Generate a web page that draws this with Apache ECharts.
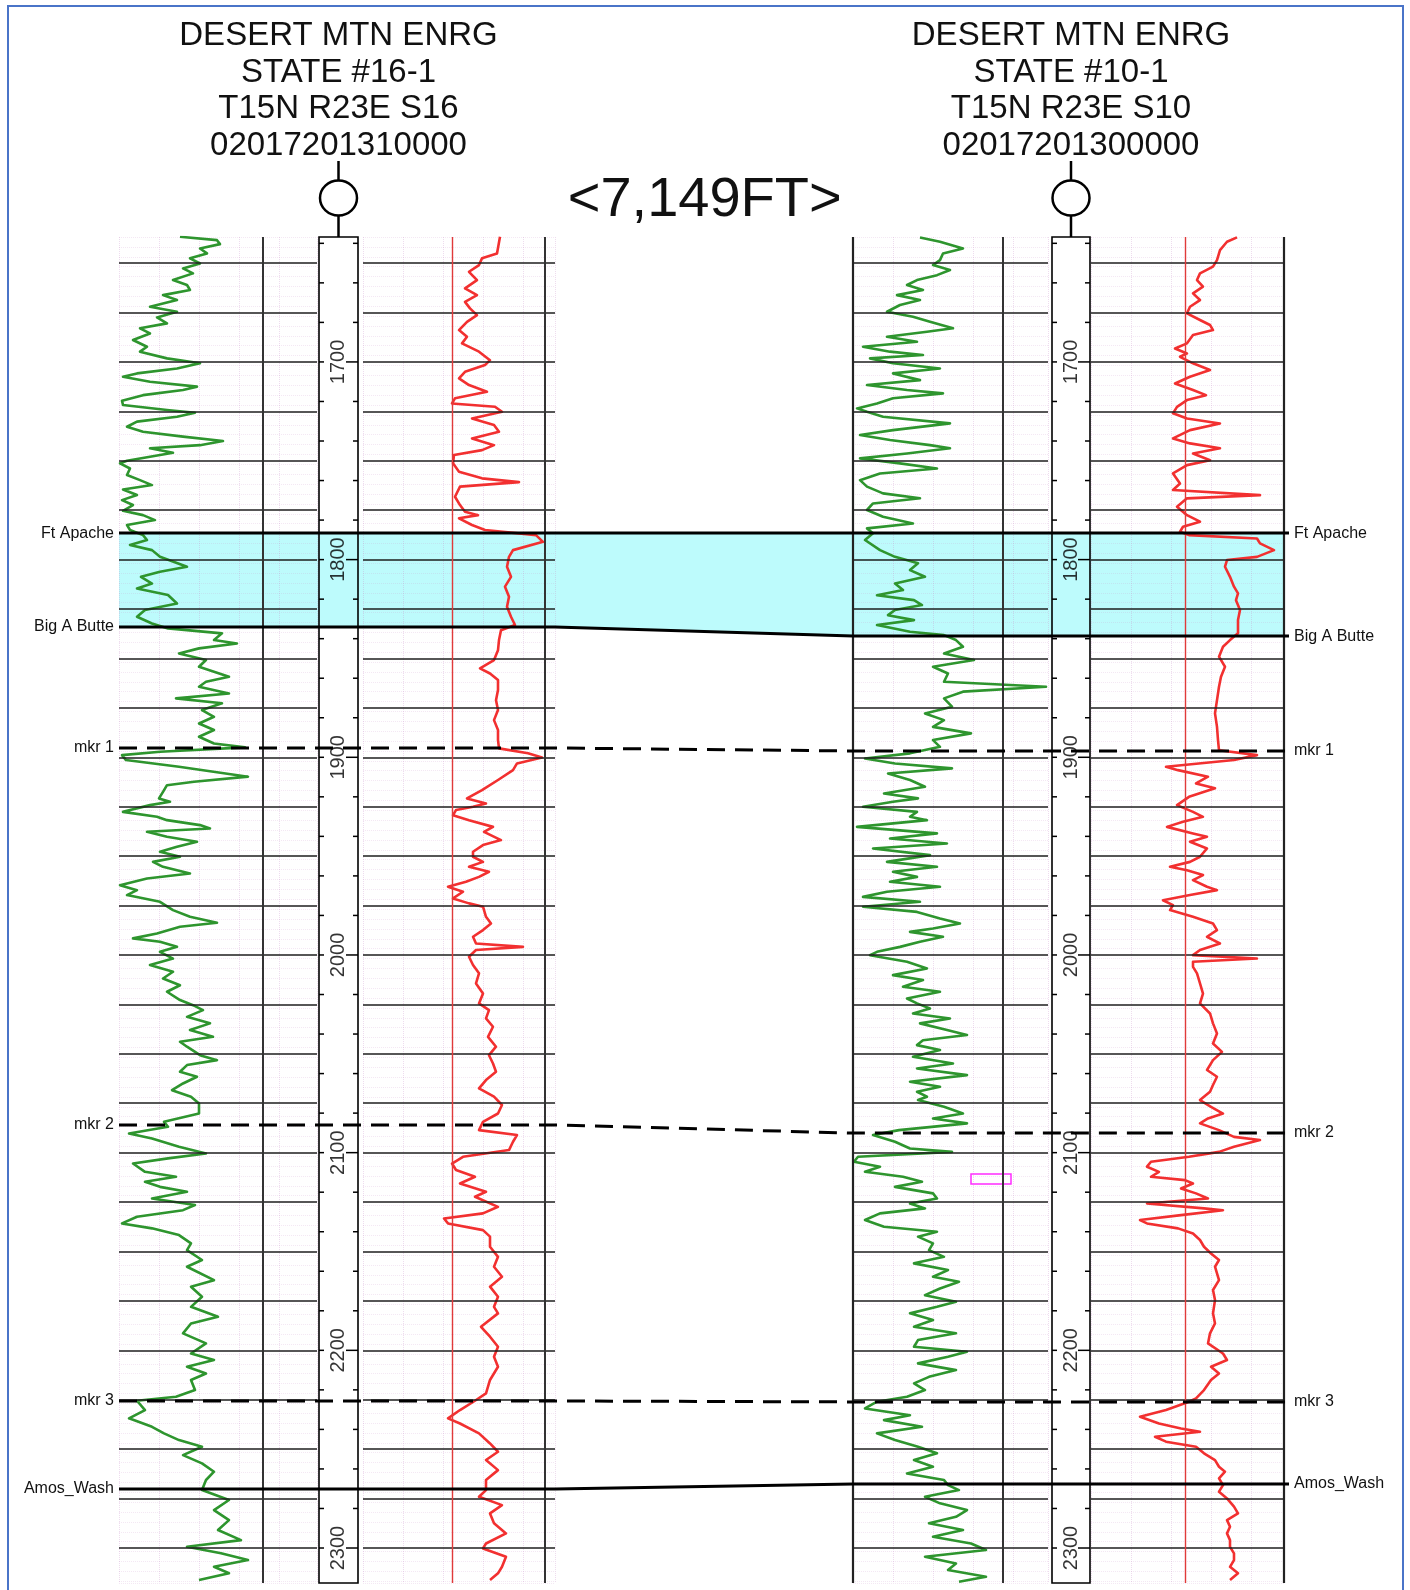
<!DOCTYPE html>
<html>
<head>
<meta charset="utf-8">
<script src="https://cdn.jsdelivr.net/npm/echarts@6/dist/echarts.min.js"></script>
<style>
  html, body { margin: 0; padding: 0; background: #fff; }
  #chart { width: 1410px; height: 1590px; }
</style>
</head>
<body>
<div id="chart"></div>
<script>
// ---- data ----------------------------------------------------------------
var depthTop = 1636.8, depthBase = 2317.7;   // shown depth window (ft)

var wellHeaders = [
  ['DESERT MTN ENRG', 'STATE #16-1', 'T15N R23E S16', '02017201310000'],
  ['DESERT MTN ENRG', 'STATE #10-1', 'T15N R23E S10', '02017201300000']
];
var distanceLabel = '<7,149FT>';

var topNames   = ['Ft Apache', 'Big A Butte', 'mkr 1', 'mkr 2', 'mkr 3', 'Amos_Wash'];
var topDashed  = [false, false, true, true, true, false];
var topsLeft   = [1786.6, 1834.1, 1895.3, 2086.0, 2225.6, 2270.1];
var topsRight  = [1786.6, 1838.7, 1896.8, 2090.1, 2226.1, 2267.6];

var depthLabels = [1700, 1800, 1900, 2000, 2100, 2200, 2300];
var depthTicks = [];
for (var t = 1640; t <= 2300; t += 20) depthTicks.push(t);
var gridDepths = [];
for (var g = 1650; g <= 2300; g += 25) gridDepths.push(g);

// curves: [depth, reading]
var grLeft = [
  [1636.7,61],[1638.4,98],[1640.4,101],[1642.6,81],[1645.1,88],[1647.6,71],[1650.2,81],[1652.7,64],[1655.2,74],[1658.6,54],
  [1661.1,68],[1663.6,71],[1666.2,44],[1668.7,58],[1672.1,31],[1674.6,58],[1677.5,38],[1680.5,48],[1683.0,21],[1685.6,31],
  [1688.9,14],[1692.3,28],[1694.8,21],[1698.2,48],[1700.7,81],[1703.3,58],[1705.8,18],[1707.5,4],[1710.0,31],[1712.5,78],
  [1714.2,64],[1716.8,24],[1719.6,3],[1721.8,4],[1724.3,48],[1725.7,76],[1727.7,58],[1730.2,18],[1732.8,8],[1735.3,24],
  [1737.8,64],[1740.0,104],[1742.1,81],[1743.7,31],[1745.9,54],[1748.0,31],[1750.0,8],[1751.3,1],[1753.9,11],[1757.2,8],
  [1759.8,21],[1762.3,33],[1764.5,4],[1767.3,18],[1769.9,3],[1772.4,14],[1775.3,4],[1777.5,24],[1780.0,36],[1782.5,8],
  [1785.0,11],[1787.6,24],[1790.1,28],[1792.6,11],[1795.2,33],[1798.6,41],[1803.6,68],[1806.1,41],[1808.7,22],[1812.1,33],
  [1814.6,18],[1817.9,49],[1822.2,58],[1825.5,26],[1828.9,18],[1832.3,33],[1834.8,49],[1837.3,103],[1840.7,95],[1842.4,118],
  [1844.9,80],[1847.5,60],[1850.8,87],[1854.2,80],[1856.7,95],[1859.3,110],[1861.8,87],[1864.3,80],[1867.7,110],[1870.2,57],
  [1872.7,103],[1876.1,83],[1879.5,95],[1882.9,80],[1886.2,95],[1889.6,80],[1893.0,95],[1895.0,126],[1897.2,41],[1898.9,3],
  [1901.4,7],[1904.8,60],[1909.8,129],[1912.4,75],[1914.1,48],[1917.5,44],[1920.8,40],[1922.5,51],[1924.2,31],[1927.6,4],
  [1930.1,38],[1931.8,48],[1934.3,81],[1936.0,91],[1937.7,28],[1940.2,48],[1942.7,78],[1945.3,58],[1947.8,41],[1950.3,61],
  [1952.9,34],[1955.4,44],[1958.8,71],[1961.3,28],[1964.7,1],[1967.2,18],[1969.7,8],[1973.1,41],[1977.3,54],[1980.7,71],
  [1983.7,98],[1985.7,61],[1989.1,38],[1991.6,14],[1993.3,41],[1995.9,58],[1998.4,41],[2001.8,54],[2005.1,31],[2008.5,54],
  [2011.9,44],[2015.3,61],[2018.6,48],[2022.8,61],[2025.4,74],[2027.9,84],[2031.3,68],[2034.6,91],[2038.0,71],[2041.4,94],
  [2043.9,61],[2046.4,68],[2050.7,81],[2053.2,98],[2055.7,68],[2059.1,61],[2061.6,78],[2065.0,64],[2068.4,53],[2071.7,72],
  [2075.1,80],[2080.2,80],[2084.4,45],[2086.9,49],[2090.3,10],[2092.8,33],[2097.0,60],[2100.4,87],[2102.9,49],[2105.5,14],
  [2109.7,26],[2112.2,57],[2114.7,26],[2117.3,41],[2119.8,68],[2123.2,33],[2126.5,76],[2129.1,64],[2132.4,18],[2135.8,3],
  [2138.3,33],[2141.7,60],[2145.9,72],[2149.3,68],[2154.3,83],[2157.7,68],[2164.5,95],[2167.8,72],[2172.9,83],[2178.0,72],
  [2183.0,99],[2186.4,72],[2191.4,64],[2196.5,87],[2201.6,72],[2204.9,95],[2208.3,68],[2211.7,87],[2215.0,72],[2220.1,76],
  [2223.5,57],[2225.5,18],[2230.2,26],[2234.4,10],[2238.7,33],[2242.0,45],[2245.4,60],[2248.8,83],[2253.0,64],[2257.2,83],
  [2261.4,95],[2265.6,87],[2270.7,83],[2275.7,110],[2280.8,95],[2285.9,110],[2290.9,99],[2296.0,122],[2299.4,68],[2302.7,102],
  [2306.1,129],[2309.5,95],[2312.8,110],[2316.2,80]
];

var resLeft = [
  [1636.7,137],[1645.1,134],[1647.6,119],[1651.0,116],[1654.4,106],[1658.6,114],[1662.8,102],[1666.2,114],[1669.6,102],[1672.9,107],
  [1676.3,114],[1679.7,104],[1683.9,96],[1687.3,104],[1690.6,99],[1694.8,116],[1699.1,127],[1701.6,122],[1705.0,102],[1708.3,96],
  [1711.7,106],[1715.1,124],[1718.4,92],[1721.0,89],[1722.7,132],[1725.2,139],[1728.6,109],[1731.9,131],[1735.3,136],[1738.7,109],
  [1742.1,131],[1744.6,119],[1747.1,91],[1751.3,90],[1755.5,96],[1758.9,119],[1760.8,156],[1763.1,97],[1768.2,92],[1772.4,97],
  [1775.8,102],[1777.5,115],[1779.1,96],[1782.5,109],[1785.0,122],[1787.6,173],[1791.0,180],[1795.2,150],[1798.6,146],[1803.6,144],
  [1808.7,148],[1813.7,142],[1818.8,146],[1823.9,144],[1828.9,148],[1833.1,152],[1835.7,138],[1840.7,136],[1845.8,135],[1850.8,131],
  [1855.0,117],[1857.6,127],[1860.9,135],[1866.0,135],[1871.1,133],[1876.1,135],[1881.2,131],[1886.2,135],[1891.3,135],[1895.5,136],
  [1898.0,165],[1900.1,179],[1903.1,154],[1906.5,150],[1911.5,135],[1916.6,119],[1920.8,104],[1923.4,123],[1925.0,110],[1926.7,93],
  [1929.3,90],[1931.8,106],[1935.2,130],[1937.7,121],[1941.9,138],[1944.4,120],[1947.8,110],[1950.3,110],[1952.9,120],[1955.4,106],
  [1957.9,126],[1960.5,116],[1963.0,103],[1965.5,85],[1968.0,100],[1971.4,90],[1973.9,106],[1975.6,120],[1980.7,123],[1984.1,128],
  [1987.4,120],[1990.8,110],[1994.2,113],[1995.9,160],[1997.5,113],[2000.9,106],[2005.1,110],[2009.3,116],[2014.4,113],[2019.5,120],
  [2024.5,116],[2027.9,126],[2032.1,123],[2036.3,130],[2041.4,125],[2046.4,133],[2050.7,126],[2054.9,130],[2059.1,133],[2063.3,123],
  [2067.5,116],[2071.7,131],[2075.9,139],[2080.2,135],[2084.4,120],[2088.6,116],[2091.1,154],[2094.5,150],[2098.7,146],[2102.1,100],
  [2105.5,89],[2108.8,93],[2112.2,112],[2115.6,97],[2119.8,123],[2122.3,112],[2127.4,135],[2130.7,120],[2133.3,81],[2135.8,85],
  [2139.2,120],[2142.5,127],[2147.6,127],[2152.7,135],[2157.7,131],[2162.8,139],[2167.8,127],[2172.9,135],[2178.0,131],[2181.3,135],
  [2188.1,118],[2193.1,127],[2198.2,135],[2203.2,131],[2208.3,135],[2215.0,127],[2221.8,123],[2225.5,112],[2230.2,97],[2234.4,85],
  [2237.0,97],[2242.0,116],[2247.1,127],[2251.3,135],[2255.5,123],[2260.6,135],[2265.6,123],[2270.7,123],[2274.1,116],[2278.3,139],
  [2282.5,127],[2287.5,131],[2292.6,143],[2297.7,123],[2300.2,120],[2304.4,143],[2309.5,139],[2312.8,135],[2316.2,127]
];

var grRight = [
  [1637.0,67],[1639.2,87],[1642.6,110],[1645.1,90],[1648.5,87],[1651.0,80],[1653.5,97],[1656.1,84],[1658.6,64],[1661.1,54],
  [1663.6,70],[1666.2,44],[1668.7,67],[1671.2,47],[1674.6,34],[1677.1,60],[1679.7,77],[1683.0,100],[1684.7,74],[1687.3,34],
  [1689.8,64],[1692.3,10],[1694.8,37],[1696.5,70],[1698.2,17],[1700.7,40],[1703.3,87],[1705.8,40],[1709.2,67],[1711.7,14],
  [1714.2,54],[1715.9,90],[1718.4,40],[1721.0,24],[1723.5,4],[1725.2,14],[1727.7,30],[1731.1,97],[1734.5,40],[1737.0,7],
  [1739.5,37],[1742.1,77],[1743.7,97],[1746.3,54],[1748.8,7],[1751.3,47],[1753.9,84],[1756.4,27],[1759.8,7],[1763.1,14],
  [1766.5,30],[1769.0,67],[1771.6,20],[1774.9,14],[1778.3,30],[1781.7,60],[1784.2,14],[1786.7,20],[1790.1,12],[1795.2,27],
  [1798.6,42],[1801.9,65],[1805.3,57],[1808.7,72],[1812.1,42],[1815.4,50],[1818.0,24],[1820.5,61],[1823.0,69],[1825.5,42],
  [1828.1,35],[1830.6,61],[1833.1,24],[1836.5,57],[1838.2,91],[1840.7,103],[1844.1,110],[1847.5,91],[1850.8,121],[1854.2,80],
  [1857.6,95],[1861.8,91],[1864.3,193],[1866.8,110],[1870.2,91],[1874.4,99],[1877.8,72],[1881.2,91],[1884.6,80],[1887.9,118],
  [1891.3,80],[1894.7,87],[1898.0,57],[1900.6,12],[1903.1,42],[1905.6,99],[1908.2,35],[1911.5,57],[1914.9,72],[1918.3,31],
  [1920.8,65],[1922.5,40],[1925.0,10],[1927.6,64],[1930.1,57],[1931.8,74],[1935.2,4],[1938.5,84],[1941.1,37],[1943.6,94],
  [1946.1,20],[1949.5,77],[1952.9,34],[1955.4,84],[1957.9,40],[1960.5,64],[1963.0,37],[1965.5,87],[1968.0,34],[1970.6,10],
  [1973.1,67],[1975.6,10],[1978.2,64],[1981.5,87],[1984.1,107],[1986.6,80],[1988.3,57],[1990.8,90],[1993.3,67],[1995.9,47],
  [1998.4,24],[2000.1,17],[2003.4,54],[2006.8,74],[2010.2,40],[2012.7,70],[2016.1,50],[2018.6,87],[2022.0,54],[2024.5,64],
  [2027.1,77],[2029.6,60],[2032.1,97],[2034.6,67],[2038.0,94],[2040.5,114],[2043.1,70],[2045.6,64],[2048.1,87],[2051.5,60],
  [2054.9,100],[2057.4,64],[2060.8,114],[2064.1,57],[2066.7,87],[2069.2,64],[2071.7,74],[2073.4,65],[2076.8,91],[2080.2,110],
  [2082.7,80],[2085.2,114],[2088.6,46],[2091.1,20],[2094.5,42],[2097.9,57],[2099.6,99],[2102.1,5],[2104.6,1],[2107.1,27],
  [2109.7,12],[2112.2,50],[2114.7,69],[2117.3,42],[2120.6,80],[2123.2,84],[2125.7,57],[2128.2,72],[2130.7,27],[2134.1,12],
  [2137.5,31],[2140.0,84],[2142.5,65],[2145.9,80],[2149.3,76],[2152.7,91],[2156.0,61],[2159.4,95],[2162.8,80],[2165.3,106],
  [2168.7,87],[2172.1,72],[2175.4,103],[2178.0,84],[2181.3,57],[2184.7,80],[2188.1,61],[2191.4,103],[2194.8,65],[2198.2,61],
  [2200.7,114],[2203.2,95],[2206.6,65],[2210.0,103],[2213.4,76],[2216.7,61],[2220.1,72],[2223.5,54],[2226.0,24],[2229.4,12],
  [2232.8,57],[2235.3,31],[2238.7,69],[2242.0,24],[2245.4,42],[2248.8,65],[2252.1,84],[2255.5,61],[2258.9,80],[2262.3,54],
  [2265.6,91],[2268.2,95],[2270.7,106],[2274.1,72],[2277.4,87],[2280.8,114],[2284.2,103],[2287.5,76],[2290.9,110],[2294.3,80],
  [2297.7,118],[2301.0,133],[2304.4,72],[2307.8,103],[2311.1,95],[2314.5,133],[2317.1,106]
];

var resRight = [
  [1637.0,146],[1639.2,136],[1643.4,129],[1648.5,126],[1651.8,122],[1655.2,109],[1658.6,106],[1661.9,112],[1665.3,102],[1668.7,109],
  [1672.1,99],[1675.4,96],[1678.8,109],[1681.3,119],[1683.9,122],[1686.4,102],[1690.6,96],[1693.2,84],[1695.7,96],[1697.4,89],
  [1700.7,102],[1704.1,119],[1707.5,99],[1710.9,84],[1714.2,102],[1716.8,115],[1719.3,96],[1722.7,86],[1726.0,82],[1728.6,96],
  [1731.1,129],[1734.5,99],[1738.7,82],[1741.2,99],[1743.7,129],[1746.3,102],[1749.7,119],[1752.2,96],[1756.4,82],[1761.5,89],
  [1764.8,82],[1767.4,169],[1769.0,96],[1773.2,86],[1777.5,96],[1780.8,109],[1783.4,92],[1785.9,89],[1787.6,98],[1789.3,166],
  [1791.8,169],[1795.2,183],[1798.6,166],[1800.2,136],[1803.6,134],[1808.7,139],[1813.7,143],[1817.1,147],[1820.5,145],[1825.5,149],
  [1830.6,147],[1837.3,147],[1840.7,139],[1844.1,132],[1849.1,128],[1854.2,134],[1859.3,130],[1864.3,128],[1871.1,126],[1877.8,124],
  [1884.6,126],[1891.3,127],[1896.4,128],[1898.9,166],[1901.4,143],[1904.8,75],[1906.5,87],[1909.8,117],[1913.2,105],[1915.7,124],
  [1920.0,98],[1924.2,86],[1927.6,102],[1930.1,112],[1932.6,92],[1935.2,76],[1938.5,102],[1940.2,116],[1942.7,99],[1946.1,116],
  [1950.3,109],[1952.9,99],[1955.4,79],[1957.1,96],[1959.6,112],[1962.1,102],[1965.5,116],[1967.2,126],[1969.7,99],[1972.3,72],
  [1974.8,82],[1977.3,79],[1980.7,102],[1984.1,122],[1987.4,126],[1990.8,116],[1994.2,129],[1997.5,109],[2000.1,102],[2001.8,166],
  [2003.4,102],[2006.0,102],[2009.3,106],[2014.4,109],[2019.5,112],[2024.5,109],[2029.6,119],[2034.6,122],[2039.7,126],[2044.8,122],
  [2049.0,131],[2053.2,122],[2058.2,116],[2061.6,126],[2065.8,122],[2069.2,119],[2073.4,109],[2076.8,120],[2080.2,132],[2082.7,117],
  [2085.2,109],[2088.6,128],[2092.0,143],[2093.6,169],[2097.0,143],[2099.6,128],[2102.1,98],[2104.6,60],[2107.1,56],[2109.7,68],
  [2112.2,60],[2113.9,94],[2115.6,102],[2118.1,90],[2120.6,105],[2123.2,117],[2125.7,56],[2128.2,113],[2129.1,132],[2131.6,90],
  [2134.1,49],[2135.8,56],[2138.3,87],[2140.9,102],[2144.2,109],[2147.6,113],[2151.0,120],[2154.3,128],[2157.7,124],[2161.1,126],
  [2164.5,128],[2169.5,122],[2174.6,124],[2181.3,122],[2186.4,124],[2191.4,119],[2196.5,117],[2201.6,132],[2204.9,136],[2208.3,120],
  [2211.7,128],[2215.0,120],[2220.1,113],[2224.3,105],[2226.0,98],[2230.2,75],[2233.6,49],[2237.0,68],[2239.5,90],[2241.2,109],
  [2243.7,64],[2246.2,75],[2248.8,105],[2252.1,113],[2255.5,124],[2258.9,128],[2261.4,134],[2264.8,128],[2268.2,132],[2271.5,128],
  [2274.9,136],[2279.1,143],[2282.5,147],[2285.9,136],[2289.2,139],[2292.6,136],[2296.0,139],[2299.4,139],[2302.7,143],[2306.1,143],
  [2309.5,139],[2312.8,147],[2316.2,139]
];

// ---- layout --------------------------------------------------------------
var FONT = "'Liberation Sans', Arial, sans-serif";
var TRACK_TOP = 237, TRACK_H = 1346;
var tracks = [
  { left: 119,  width: 198, max: 198, kind: 'gr' },
  { left: 319,  width: 39,  max: 1,   kind: 'depth' },
  { left: 363,  width: 192, max: 192, kind: 'res' },
  { left: 853,  width: 195, max: 195, kind: 'gr' },
  { left: 1052, width: 38,  max: 1,   kind: 'depth' },
  { left: 1091, width: 193, max: 193, kind: 'res' }
];

var chart = echarts.init(document.getElementById('chart'));

function hLines() {
  return gridDepths.map(function (d) {
    return { yAxis: d, lineStyle: { color: '#1e1e1e', width: 1.5, type: 'solid' } };
  });
}
function vLine(v, color, w) {
  return { xAxis: v, lineStyle: { color: color, width: w, type: 'solid' } };
}
function curveSeries(idx, rows, color, extraLines, extra) {
  var s = {
    type: 'line',
    xAxisIndex: idx, yAxisIndex: idx,
    data: rows.map(function (r) { return [r[1], r[0]]; }),
    showSymbol: false,
    lineStyle: { color: color, width: 2.6, join: 'round' },
    z: 3,
    silent: true,
    markLine: {
      silent: true, symbol: 'none', label: { show: false },
      data: hLines().concat(extraLines)
    }
  };
  if (extra) for (var k in extra) s[k] = extra[k];
  return s;
}
function tickSeries(idx) {
  return {
    type: 'custom', xAxisIndex: idx, yAxisIndex: idx, silent: true, z: 4,
    data: depthTicks.map(function (d) { return [0, d]; }),
    renderItem: function (params, api) {
      var d = api.value(1);
      var y = api.coord([0, d])[1];
      var cs = params.coordSys;
      var big = d % 100 === 0;
      return {
        type: 'group', children: [
          { type: 'line', shape: { x1: cs.x, y1: y, x2: cs.x + 5, y2: y }, style: { stroke: '#000', lineWidth: 1.5 } },
          { type: 'line', shape: { x1: cs.x + cs.width - (big ? 12 : 5), y1: y, x2: cs.x + cs.width, y2: y }, style: { stroke: '#000', lineWidth: 1.5 } }
        ]
      };
    }
  };
}
function labelSeries(idx) {
  return {
    type: 'scatter', xAxisIndex: idx, yAxisIndex: idx, silent: true, z: 5,
    symbolSize: 1, itemStyle: { color: 'rgba(0,0,0,0)' },
    data: depthLabels.map(function (d) { return [0.5, d]; }),
    label: {
      show: true, position: 'inside', rotate: 90,
      formatter: function (p) { return String(p.value[1]); },
      fontSize: 20, fontFamily: FONT, color: '#000'
    }
  };
}

var option = {
  backgroundColor: '#fff',
  animation: false,
  grid: tracks.map(function (t) {
    return {
      left: t.left, top: TRACK_TOP, width: t.width, height: TRACK_H,
      show: t.kind === 'depth', borderColor: '#000', borderWidth: 1.6,
      backgroundColor: 'transparent'
    };
  }),
  xAxis: tracks.map(function (t, i) {
    return {
      gridIndex: i, type: 'value', min: 0, max: t.max, interval: 40,
      axisLine: { show: false }, axisTick: { show: false }, axisLabel: { show: false },
      splitLine: { show: t.kind !== 'depth', lineStyle: { color: 'rgba(200,140,200,0.3)', type: 'dotted', width: 1 } }
    };
  }),
  yAxis: tracks.map(function (t, i) {
    return {
      gridIndex: i, type: 'value', inverse: true, min: depthTop, max: depthBase, interval: 5,
      axisLine: { show: false }, axisTick: { show: false }, axisLabel: { show: false },
      splitLine: { show: t.kind !== 'depth', lineStyle: { color: 'rgba(205,150,205,0.22)', type: 'dotted', width: 1 } }
    };
  }),
  series: [
    curveSeries(0, grLeft, '#2e952e', [vLine(144, '#333', 2)]),
    tickSeries(1),
    labelSeries(1),
    curveSeries(2, resLeft, '#f23030', [vLine(89, '#e03a3a', 1.4), vLine(182, '#333', 2)]),
    curveSeries(3, grRight, '#2e952e', [vLine(0, '#222', 2.2), vLine(150, '#333', 2)], {
      markArea: {
        silent: true,
        itemStyle: { color: 'rgba(0,0,0,0)', borderColor: '#ff2cff', borderWidth: 1.5 },
        data: [[{ xAxis: 118, yAxis: 2110.8 }, { xAxis: 158, yAxis: 2115.9 }]]
      }
    }),
    tickSeries(4),
    labelSeries(4),
    curveSeries(5, resRight, '#f23030', [vLine(94, '#e03a3a', 1.4), vLine(193, '#222', 2.2)])
  ]
};
chart.setOption(option);

// ---- tops, correlation, headers (positions from the axes) -----------------
function yPix(axis, d) { return chart.convertToPixel({ yAxisIndex: axis }, d); }
function xPix(axis, v) { return chart.convertToPixel({ xAxisIndex: axis }, v); }

var xL0 = xPix(0, 0), xL1 = xPix(2, tracks[2].max);
var xR0 = xPix(3, 0), xR1 = xPix(5, tracks[5].max);
var graphics = [];

// frame
graphics.push({ type: 'rect', z: 100, shape: { x: 8, y: 6, width: 1395, height: 1600 },
  style: { fill: 'none', stroke: '#4a74c8', lineWidth: 2 } });

// shaded interval Ft Apache -> Big A Butte
var faL = yPix(0, topsLeft[0]), faR = yPix(3, topsRight[0]);
var baL = yPix(0, topsLeft[1]), baR = yPix(3, topsRight[1]);
graphics.push({ type: 'polygon', z: -1, shape: { points: [
  [xL0, faL], [xL1, faL], [xR0, faR], [xR1, faR],
  [xR1, baR], [xR0, baR], [xL1, baL], [xL0, baL]] },
  style: { fill: '#bdfbfc' } });

topNames.forEach(function (name, i) {
  var yl = yPix(0, topsLeft[i]), yr = yPix(3, topsRight[i]);
  graphics.push({ type: 'polyline', z: 50,
    shape: { points: [[xL0, yl], [xL1, yl], [xR0, yr], [xR1 + 5, yr]] },
    style: { stroke: '#000', lineWidth: 3, fill: null, lineDash: topDashed[i] ? [18, 10] : null } });
  graphics.push({ type: 'text', z: 50, x: xL0 - 5, y: yl,
    style: { text: name, font: '16px ' + FONT, fill: '#111', align: 'right', verticalAlign: 'middle',
             textAlign: 'right', textVerticalAlign: 'middle' } });
  graphics.push({ type: 'text', z: 50, x: xR1 + 10, y: yr,
    style: { text: name, font: '16px ' + FONT, fill: '#111', align: 'left', verticalAlign: 'middle',
             textAlign: 'left', textVerticalAlign: 'middle' } });
});

// well headers and symbols, centred on the depth tracks
[1, 4].forEach(function (axis, w) {
  var cx = xPix(axis, 0.5);
  graphics.push({ type: 'text', z: 50, x: cx, y: 18,
    style: { text: wellHeaders[w].join('\n'), font: '33px ' + FONT, lineHeight: 36.5, fill: '#111',
             align: 'center', verticalAlign: 'top', textAlign: 'center', textVerticalAlign: 'top' } });
  graphics.push({ type: 'line', z: 50, shape: { x1: cx, y1: 161, x2: cx, y2: 181 }, style: { stroke: '#000', lineWidth: 2.5 } });
  graphics.push({ type: 'line', z: 50, shape: { x1: cx, y1: 215, x2: cx, y2: TRACK_TOP }, style: { stroke: '#000', lineWidth: 2.5 } });
  graphics.push({ type: 'ellipse', z: 50, shape: { cx: cx, cy: 198, rx: 18.5, ry: 17.5 },
    style: { fill: '#fff', stroke: '#000', lineWidth: 2.5 } });
});

graphics.push({ type: 'text', z: 50, x: (xPix(1, 0.5) + xPix(4, 0.5)) / 2, y: 201,
  style: { text: distanceLabel, font: '56px ' + FONT, fill: '#111',
           align: 'center', verticalAlign: 'middle', textAlign: 'center', textVerticalAlign: 'middle' } });

chart.setOption({ graphic: graphics });
</script>
</body>
</html>
